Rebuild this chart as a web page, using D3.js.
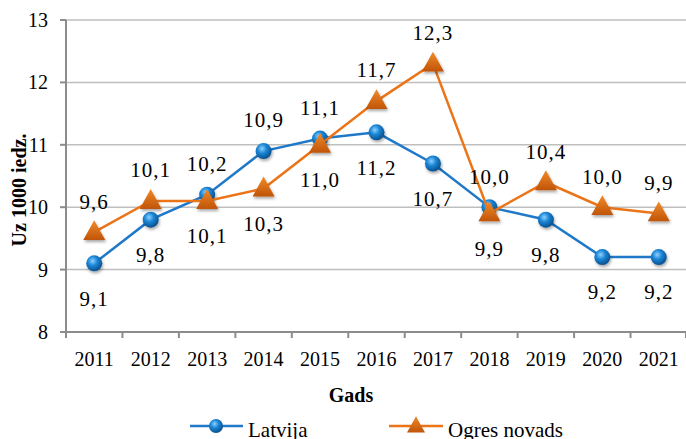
<!DOCTYPE html>
<html>
<head>
<meta charset="utf-8">
<script src="https://cdn.jsdelivr.net/npm/d3@7"></script>
<style>
  body { margin: 0; background: #fff; }
  svg text { font-family: "Liberation Serif", "Times New Roman", Times, "DejaVu Serif", serif; }
</style>
</head>
<body>
<svg width="686" height="439"></svg>
<script>
'use strict';

var years = ['2011','2012','2013','2014','2015','2016','2017','2018','2019','2020','2021'];
var latvija = [9.1, 9.8, 10.2, 10.9, 11.1, 11.2, 10.7, 10.0, 9.8, 9.2, 9.2];
var ogre = [9.6, 10.1, 10.1, 10.3, 11.0, 11.7, 12.3, 9.9, 10.4, 10.0, 9.9];
var yTicks = [8, 9, 10, 11, 12, 13];
var seriesNames = ['Latvija', 'Ogres novads'];

// label side per point: 1 below, -1 above
var latvijaSide = [1, 1, -1, -1, -1, 1, 1, -1, 1, 1, 1];
var ogreSide = [-1, -1, 1, 1, 1, -1, -1, 1, -1, -1, -1];

var svg = d3.select('svg');
var x = d3.scaleBand().domain(years).range([66, 687]);
var y = d3.scaleLinear().domain([8, 13]).range([332, 20]);

var defs = svg.append('defs');
var gBlue = defs.append('radialGradient').attr('id', 'gBlue')
	.attr('cx', '40%').attr('cy', '35%').attr('r', '65%');
gBlue.append('stop').attr('offset', '0%').attr('stop-color', '#8fd0ff');
gBlue.append('stop').attr('offset', '45%').attr('stop-color', '#1a86d6');
gBlue.append('stop').attr('offset', '100%').attr('stop-color', '#0a4f8c');
var gOr = defs.append('linearGradient').attr('id', 'gOr')
	.attr('x1', '0').attr('y1', '0').attr('x2', '0').attr('y2', '1');
gOr.append('stop').attr('offset', '0%').attr('stop-color', '#f08a2a');
gOr.append('stop').attr('offset', '100%').attr('stop-color', '#c05408');
var sh = defs.append('filter').attr('id', 'sh').attr('x', '-50%').attr('y', '-50%').attr('width', '200%').attr('height', '200%');
sh.append('feDropShadow').attr('dx', 1).attr('dy', 2).attr('stdDeviation', 1.5)
	.attr('flood-color', '#000').attr('flood-opacity', 0.35);

// gridlines
svg.append('g').selectAll('line').data(yTicks.slice(1)).enter().append('line')
	.attr('x1', 66).attr('x2', 686)
	.attr('y1', function(d){ return y(d); }).attr('y2', function(d){ return y(d); })
	.attr('stroke', '#bfbfbf').attr('stroke-width', 1.5);

// y axis
var yAxis = svg.append('g');
yAxis.append('line').attr('x1', 66).attr('x2', 66).attr('y1', y(13)).attr('y2', y(8) + 6)
	.attr('stroke', '#8c8c8c').attr('stroke-width', 2);
yAxis.selectAll('.tk').data(yTicks).enter().append('line')
	.attr('x1', 60).attr('x2', 66)
	.attr('y1', function(d){ return y(d); }).attr('y2', function(d){ return y(d); })
	.attr('stroke', '#8c8c8c').attr('stroke-width', 2);
yAxis.selectAll('text').data(yTicks).enter().append('text')
	.attr('x', 48).attr('y', function(d){ return y(d); }).attr('dy', '0.35em')
	.attr('text-anchor', 'end').attr('font-size', 20).text(function(d){ return d; });

// x axis
var xAxis = svg.append('g');
xAxis.append('line').attr('x1', 66).attr('x2', 686).attr('y1', y(8)).attr('y2', y(8))
	.attr('stroke', '#8c8c8c').attr('stroke-width', 2);
var edges = years.map(function(d){ return x(d); }).concat([x.range()[1] - 1]);
xAxis.selectAll('.tk').data(edges).enter().append('line')
	.attr('x1', function(d){ return d; }).attr('x2', function(d){ return d; })
	.attr('y1', y(8)).attr('y2', y(8) + 6)
	.attr('stroke', '#8c8c8c').attr('stroke-width', 2);
xAxis.selectAll('text').data(years).enter().append('text')
	.attr('x', function(d){ return x(d) + x.bandwidth() / 2; }).attr('y', 366)
	.attr('text-anchor', 'middle').attr('font-size', 20).text(function(d){ return d; });

// axis titles
svg.append('text').attr('x', 351).attr('y', 402).attr('text-anchor', 'middle')
	.attr('font-size', 20).attr('font-weight', 'bold').text('Gads');
svg.append('text').attr('transform', 'translate(26,190) rotate(-90)').attr('text-anchor', 'middle')
	.attr('font-size', 20).attr('font-weight', 'bold').text('Uz 1000 iedz.');

var cx = function(d, i){ return x(years[i]) + x.bandwidth() / 2; };
var line = d3.line().x(function(d, i){ return cx(d, i); }).y(function(d){ return y(d); });

function triPath(s){
	var h = s * 0.9;
	return 'M0,' + (-h * 0.6) + 'L' + (s / 2) + ',' + (h * 0.4) + 'L' + (-s / 2) + ',' + (h * 0.4) + 'Z';
}

// Latvija
svg.append('path').datum(latvija).attr('d', line).attr('fill', 'none')
	.attr('stroke', '#1f78c8').attr('stroke-width', 2.5);
svg.append('g').selectAll('circle').data(latvija).enter().append('circle')
	.attr('cx', cx).attr('cy', function(d){ return y(d); }).attr('r', 8)
	.attr('fill', 'url(#gBlue)').attr('filter', 'url(#sh)');

// Ogres novads
svg.append('path').datum(ogre).attr('d', line).attr('fill', 'none')
	.attr('stroke', '#ec7418').attr('stroke-width', 2.5);
svg.append('g').selectAll('path').data(ogre).enter().append('path')
	.attr('d', triPath(22))
	.attr('transform', function(d, i){ return 'translate(' + cx(d, i) + ',' + y(d) + ')'; })
	.attr('fill', 'url(#gOr)').attr('filter', 'url(#sh)');

// data labels
function fmt(v){ return v.toFixed(1).replace('.', ','); }
function labels(data, side){
	svg.append('g').selectAll('text').data(data).enter().append('text')
		.attr('x', cx)
		.attr('y', function(d, i){ return y(d) + (side[i] > 0 ? 35 : -31); })
		.attr('dy', '0.35em').attr('text-anchor', 'middle').attr('font-size', 21)
		.attr('letter-spacing', 1)
		.text(fmt);
}
labels(latvija, latvijaSide);
labels(ogre, ogreSide);

// legend
var legend = svg.append('g');
var lg1 = legend.append('g').attr('transform', 'translate(190,426)');
lg1.append('line').attr('x1', 0).attr('x2', 53).attr('stroke', '#1f78c8').attr('stroke-width', 2.5);
lg1.append('circle').attr('cx', 26).attr('r', 7).attr('fill', 'url(#gBlue)');
lg1.append('text').attr('x', 58).attr('y', 11).attr('font-size', 21).text(seriesNames[0]);
var lg2 = legend.append('g').attr('transform', 'translate(389,426)');
lg2.append('line').attr('x1', 0).attr('x2', 54).attr('stroke', '#ec7418').attr('stroke-width', 2.5);
lg2.append('path').attr('d', triPath(18)).attr('transform', 'translate(27,0)').attr('fill', 'url(#gOr)');
lg2.append('text').attr('x', 59).attr('y', 11).attr('font-size', 21).text(seriesNames[1]);
</script>
</body>
</html>
